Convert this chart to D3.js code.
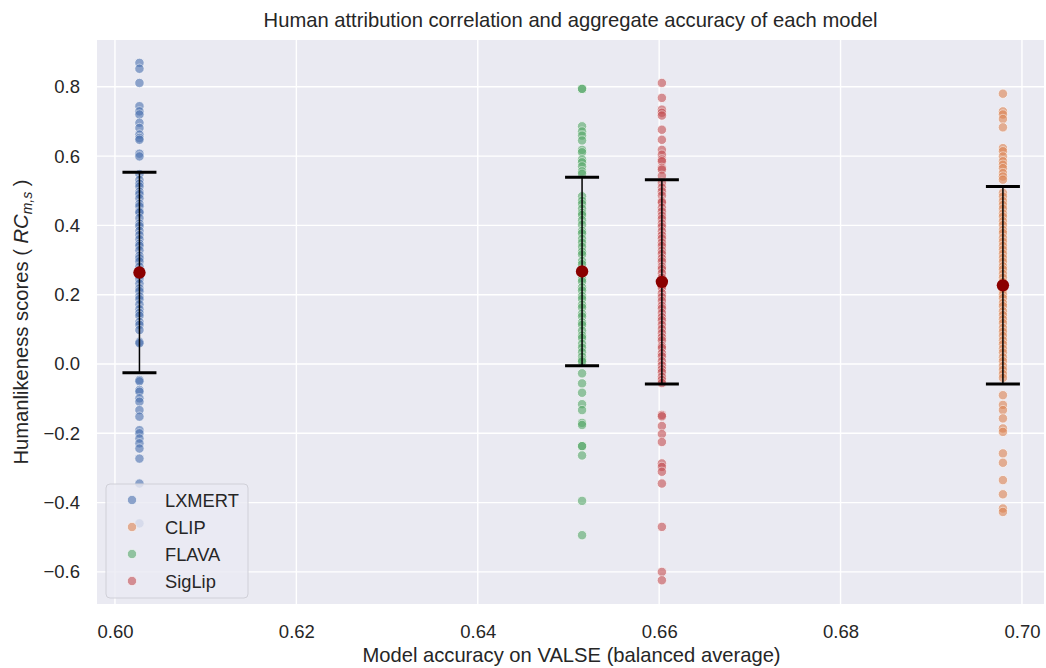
<!DOCTYPE html>
<html>
<head>
<meta charset="utf-8">
<script src="https://cdn.jsdelivr.net/npm/d3@7"></script>
<style>
  html, body { margin: 0; padding: 0; background: #ffffff; }
  svg { display: block; }
  text { font-family: "Liberation Sans", Arial, "DejaVu Sans", sans-serif; fill: #262626; }
</style>
</head>
<body>
<svg id="chart" width="1046" height="668"></svg>
<script>
// ---------------- DATA ----------------
const models = ["LXMERT", "CLIP", "FLAVA", "SigLip"];
const accuracy = [0.6027, 0.6979, 0.6515, 0.6603];
const meanScores = [0.264, 0.227, 0.267, 0.237];
const sdScores = [0.289, 0.285, 0.272, 0.295];

const lxmertScores = [0.869, 0.852, 0.811, 0.744, 0.729, 0.720, 0.696, 0.681, 0.662, 0.652, 0.647, 0.607, 0.599,
  0.548, 0.531, 0.52, 0.512, 0.497, 0.49, 0.478, 0.462, 0.455, 0.44, 0.437, 0.421, 0.405, 0.398, 0.384, 0.372,
  0.36, 0.347, 0.341, 0.328, 0.312, 0.305, 0.296, 0.281, 0.27, 0.255, 0.246, 0.232, 0.218, 0.21, 0.195, 0.187,
  0.172, 0.158, 0.147, 0.139, 0.121, 0.113, 0.098, 0.064, 0.06,
  -0.046, -0.05, -0.075, -0.08, -0.099, -0.109, -0.133, -0.152, -0.191, -0.200, -0.215, -0.229, -0.244, -0.273,
  -0.345, -0.46];
const clipScores = [0.780, 0.729, 0.720, 0.707, 0.683, 0.623, 0.614, 0.599, 0.585, 0.575, 0.565, 0.551, 0.541, 0.532,
  0.494, 0.483, 0.47, 0.459, 0.448, 0.434, 0.425, 0.412, 0.401, 0.387, 0.378, 0.364, 0.353, 0.341, 0.33, 0.318,
  0.306, 0.295, 0.282, 0.273, 0.26, 0.249, 0.237, 0.224, 0.213, 0.2, 0.19, 0.176, 0.167, 0.152, 0.141, 0.129,
  0.118, 0.104, 0.093, 0.081, 0.068, 0.057, 0.044, 0.033, 0.019, 0.008, -0.006, -0.017, -0.029, -0.04,
  -0.090, -0.118, -0.133, -0.157, -0.186, -0.196, -0.258, -0.285, -0.335, -0.376, -0.417, -0.427];
const flavaScores = [0.794, 0.794, 0.686, 0.671, 0.659, 0.645, 0.618, 0.611, 0.590, 0.582, 0.570, 0.556, 0.549,
  0.484, 0.471, 0.462, 0.448, 0.436, 0.43, 0.415, 0.402, 0.384, 0.377, 0.361, 0.35, 0.338, 0.324, 0.316, 0.297,
  0.288, 0.272, 0.26, 0.245, 0.238, 0.221, 0.212, 0.196, 0.188, 0.171, 0.163, 0.145, 0.137, 0.12, 0.113, 0.096,
  0.082, 0.075, 0.058, 0.047, 0.034, 0.021, 0.012, 0.007,
  -0.027, -0.056, -0.083, -0.116, -0.133, -0.170, -0.176, -0.237, -0.237, -0.264, -0.395, -0.494];
const siglipScores = [0.811, 0.768, 0.734, 0.725, 0.717, 0.676, 0.647, 0.618, 0.604, 0.590, 0.585, 0.566, 0.561, 0.543,
  0.523, 0.509, 0.498, 0.486, 0.47, 0.466, 0.451, 0.44, 0.428, 0.419, 0.405, 0.396, 0.383, 0.371, 0.362, 0.35,
  0.341, 0.327, 0.318, 0.305, 0.296, 0.281, 0.274, 0.262, 0.249, 0.238, 0.226, 0.219, 0.204, 0.193, 0.182, 0.168,
  0.16, 0.147, 0.135, 0.126, 0.113, 0.101, 0.089, 0.077, 0.068, 0.052, 0.046, 0.031, 0.022, 0.008, -0.004,
  -0.015, -0.024, -0.037, -0.046, -0.055,
  -0.147, -0.151, -0.179, -0.202, -0.225, -0.287, -0.297, -0.311, -0.345, -0.470, -0.600, -0.624];
const scoreLists = [lxmertScores, clipScores, flavaScores, siglipScores];

const xTicks = [0.60, 0.62, 0.64, 0.66, 0.68, 0.70];
const yTicks = [-0.6, -0.4, -0.2, 0.0, 0.2, 0.4, 0.6, 0.8];
const colors = ["#4C72B0", "#DD8452", "#55A868", "#C44E52"];

const titleText = "Human attribution correlation and aggregate accuracy of each model";
const xLabelText = "Model accuracy on VALSE (balanced average)";

// ---------------- LAYOUT ----------------
const svg = d3.select("#chart");
const plot = { left: 97, right: 1044, top: 40, bottom: 604 };

const x = d3.scaleLinear().domain([0.59802, 0.70243]).range([plot.left, plot.right]);
const y = d3.scaleLinear().domain([-0.6926, 0.935]).range([plot.bottom, plot.top]);

// background
svg.append("rect")
  .attr("x", plot.left).attr("y", plot.top)
  .attr("width", plot.right - plot.left).attr("height", plot.bottom - plot.top)
  .attr("fill", "#EAEAF2");

// grid
const grid = svg.append("g");
grid.selectAll(".vg").data(xTicks).join("line")
  .attr("x1", d => x(d)).attr("x2", d => x(d))
  .attr("y1", plot.top).attr("y2", plot.bottom)
  .attr("stroke", "#ffffff").attr("stroke-width", 1.4);
grid.selectAll(".hg").data(yTicks).join("line")
  .attr("y1", d => y(d)).attr("y2", d => y(d))
  .attr("x1", plot.left).attr("x2", plot.right)
  .attr("stroke", "#ffffff").attr("stroke-width", 1.4);

// axes (labels only, no spines)
const xAxis = d3.axisBottom(x).tickValues(xTicks).tickFormat(d3.format(".2f")).tickSize(0).tickPadding(21);
const gx = svg.append("g").attr("transform", `translate(0,${plot.bottom})`).call(xAxis);
gx.select(".domain").remove();
gx.selectAll("text").style("font-size", "18.5px").attr("fill", "#262626");

const yAxis = d3.axisLeft(y).tickValues(yTicks).tickFormat(d3.format(".1f")).tickSize(0).tickPadding(17);
const gy = svg.append("g").attr("transform", `translate(${plot.left},0)`).call(yAxis);
gy.select(".domain").remove();
gy.selectAll("text").style("font-size", "18.5px").attr("fill", "#262626");

// points
const pointData = [];
models.forEach((m, i) => {
  scoreLists[i].forEach(v => pointData.push({ model: i, acc: accuracy[i], v }));
});
svg.append("g").selectAll("circle").data(pointData).join("circle")
  .attr("cx", d => x(d.acc)).attr("cy", d => y(d.v)).attr("r", 4.7)
  .attr("fill", d => colors[d.model])
  .attr("stroke", "#ffffff").attr("stroke-width", 0.8)
  .attr("opacity", 0.6);

// error bars
const summary = models.map((m, i) => ({ acc: accuracy[i], mean: meanScores[i], sd: sdScores[i] }));
const eb = svg.append("g");
eb.selectAll(".stem").data(summary).join("line")
  .attr("x1", d => x(d.acc)).attr("x2", d => x(d.acc))
  .attr("y1", d => y(d.mean + d.sd)).attr("y2", d => y(d.mean - d.sd))
  .attr("stroke", "#000").attr("stroke-width", 1.5);
[1, -1].forEach(s => {
  eb.selectAll(".cap" + (s > 0 ? "t" : "b")).data(summary).join("line")
    .attr("x1", d => x(d.acc) - 17).attr("x2", d => x(d.acc) + 17)
    .attr("y1", d => y(d.mean + s * d.sd)).attr("y2", d => y(d.mean + s * d.sd))
    .attr("stroke", "#000").attr("stroke-width", 3);
});
eb.selectAll("circle").data(summary).join("circle")
  .attr("cx", d => x(d.acc)).attr("cy", d => y(d.mean)).attr("r", 6.2)
  .attr("fill", "#8B0000");

// title
svg.append("text")
  .attr("x", (plot.left + plot.right) / 2).attr("y", 27)
  .attr("text-anchor", "middle").style("font-size", "20.2px")
  .text(titleText);

// x label
svg.append("text")
  .attr("x", (plot.left + plot.right) / 2 + 1).attr("y", 662)
  .attr("text-anchor", "middle").style("font-size", "20.2px")
  .text(xLabelText);

// y label
const yl = svg.append("text")
  .attr("transform", `translate(28,${(plot.top + plot.bottom) / 2}) rotate(-90)`)
  .attr("text-anchor", "middle").style("font-size", "20.2px");
yl.append("tspan").text("Humanlikeness scores ( ");
yl.append("tspan").style("font-style", "italic").text("RC");
yl.append("tspan").style("font-style", "italic").style("font-size", "14px").attr("dy", 4).text("m,s");
yl.append("tspan").attr("dy", -4).text(" )");

// legend
const leg = svg.append("g").attr("transform", "translate(106,484)");
leg.append("rect").attr("width", 142).attr("height", 114).attr("rx", 4)
  .attr("fill", "#EAEAF2").attr("fill-opacity", 0.8)
  .attr("stroke", "#d0d0d8").attr("stroke-width", 1);
const items = leg.selectAll(".it").data(models).join("g")
  .attr("transform", (d, i) => `translate(0,${16 + i * 27})`);
items.append("circle").attr("cx", 26).attr("cy", 0).attr("r", 4.7)
  .attr("fill", (d, i) => colors[i]).attr("stroke", "#fff").attr("stroke-width", 0.8).attr("opacity", 0.6);
items.append("text").attr("x", 59).attr("y", 6.5).style("font-size", "18.3px").text(d => d);
</script>
</body>
</html>
